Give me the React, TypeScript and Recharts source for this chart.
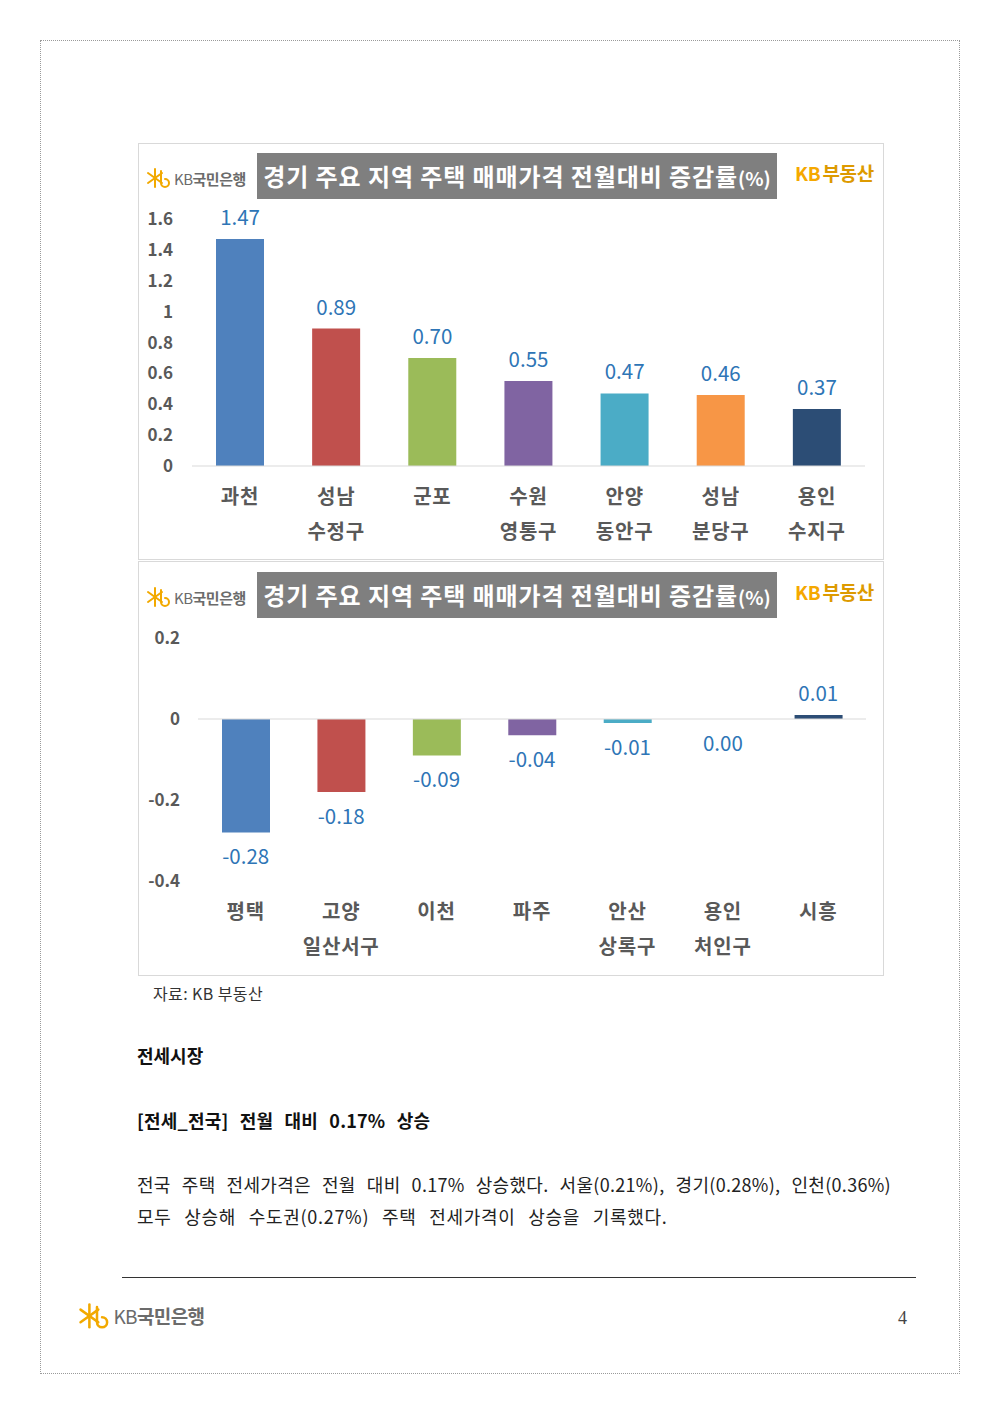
import { ComposedChart, Bar, Line, XAxis, YAxis, Cell, ReferenceLine } from 'recharts'

const FONT = '"Noto Sans CJK KR", "Noto Sans", sans-serif'

// 상승 지역
const upRegions = ['과천', '성남\n수정구', '군포', '수원\n영통구', '안양\n동안구', '성남\n분당구', '용인\n수지구']
const upValues = [1.47, 0.89, 0.7, 0.55, 0.47, 0.46, 0.37]
const upTicks = [0, 0.2, 0.4, 0.6, 0.8, 1, 1.2, 1.4, 1.6]

// 하락 지역
const downRegions = ['평택', '고양\n일산서구', '이천', '파주', '안산\n상록구', '용인\n처인구', '시흥']
const downValues = [-0.28, -0.18, -0.09, -0.04, -0.01, 0.0, 0.01]
const downTicks = [-0.4, -0.2, 0, 0.2]

const barColors = ['#4F81BD', '#C0504D', '#9BBB59', '#8064A2', '#4BACC6', '#F79646', '#2C4D75']

const toRows = (names: string[], values: number[]) =>
  names.map((name, i) => ({ name, value: values[i] }))

function CategoryTick({ x, y, payload }: any) {
  const lines = String(payload.value).split('\n')
  return (
    <text x={x} y={y} textAnchor="middle" fill="#595959" fontSize={20} fontWeight={700} letterSpacing={0.8} fontFamily={FONT}>
      {lines.map((l, i) => (
        <tspan key={i} x={x} y={y + 38 + i * 35}>
          {l}
        </tspan>
      ))}
    </text>
  )
}

function ValueTick({ x, y, payload }: any) {
  return (
    <text x={x} y={y + 6} textAnchor="end" fill="#595959" fontSize={17} fontWeight={700} fontFamily={FONT}>
      {payload.value}
    </text>
  )
}

// 값 라벨: 막대 끝 위치(cx, cy)에 그리되 0 이하이면 아래쪽에 둔다
function ValueDot({ cx, cy, value }: any) {
  if (cx == null || cy == null) return null
  const v = Array.isArray(value) ? value[1] : value
  const ty = v > 0 ? cy - 14 : cy + 32
  return (
    <text x={cx} y={ty} textAnchor="middle" fill="#2E75B6" fontSize={20.5} fontFamily={FONT}>
      {Number(v).toFixed(2)}
    </text>
  )
}

function KbLogo({ size }: { size: number }) {
  const s = size / 15
  return (
    <div style={{ display: 'flex', alignItems: 'center', gap: 2 * s }}>
      <svg width={26 * s} height={22 * s} viewBox="0 0 26 22">
        <g stroke="#F2A900" strokeWidth={2} strokeLinecap="round" fill="none">
          <line x1={9} y1={2} x2={9} y2={20} />
          <line x1={2} y1={6} x2={16} y2={16} />
          <line x1={2} y1={16} x2={16} y2={6} />
          <path d="M15 4 L15 16 A4 4 0 1 0 19 12" />
        </g>
      </svg>
      <span style={{ fontFamily: FONT, fontSize: size, color: '#6b6b6b', letterSpacing: -0.5 * s }}>
        KB<span style={{ fontWeight: 700 }}>국민은행</span>
      </span>
    </div>
  )
}

function Header({ top }: { top: number }) {
  return (
    <>
      <div style={{ position: 'absolute', left: 146, top: top + 14 }}>
        <KbLogo size={15} />
      </div>
      <div
        style={{
          position: 'absolute',
          left: 257,
          top,
          width: 520,
          height: 46,
          background: '#7F7F7F',
          color: '#fff',
          fontFamily: FONT,
          fontWeight: 700,
          fontSize: 24,
          lineHeight: '46px',
          textAlign: 'center',
          letterSpacing: 0.9,
          whiteSpace: 'nowrap',
        }}
      >
        경기 주요 지역 주택 매매가격 전월대비 증감률<span style={{ fontSize: 19, letterSpacing: 0 }}>(%)</span>
      </div>
      <div
        style={{ position: 'absolute', left: 795, top: top + 6, fontFamily: FONT, fontWeight: 700, fontSize: 19, letterSpacing: -0.3 }}
      >
        <span style={{ color: '#F5A800' }}>KB</span>
        <span style={{ color: '#DD9A00', marginLeft: 2 }}>부동산</span>
      </div>
    </>
  )
}

export default function App() {
  const upRows = toRows(upRegions, upValues)
  const downRows = toRows(downRegions, downValues)

  return (
    <div style={{ position: 'absolute', left: 0, top: 0, width: 1000, height: 1414, background: '#fff', fontFamily: FONT }}>
      <div style={{ position: 'absolute', left: 40, top: 40, width: 920, height: 1334, border: '1px dotted #9a9a9a', boxSizing: 'border-box' }} />

      {/* 상승 차트 */}
      <div style={{ position: 'absolute', left: 138, top: 143, width: 746, height: 417, border: '1px solid #D9D9D9', boxSizing: 'border-box' }} />
      <div style={{ position: 'absolute', left: 138, top: 143 }}>
        <ComposedChart width={746} height={417} data={upRows} margin={{ top: 76, right: 19, left: 0, bottom: 14 }}>
          <XAxis dataKey="name" axisLine={{ stroke: '#D9D9D9' }} tickLine={false} tickSize={0} tickMargin={0} height={80} interval={0} tick={<CategoryTick />} />
          <YAxis domain={[0, 1.6]} ticks={upTicks} width={54} axisLine={false} tickLine={false} tickSize={0} tickMargin={19} tick={<ValueTick />} />
          <Bar dataKey="value" barSize={48} isAnimationActive={false}>
            {upRows.map((r, i) => (
              <Cell key={r.name} fill={barColors[i]} />
            ))}
          </Bar>
          <Line dataKey="value" stroke="none" dot={<ValueDot />} activeDot={false} isAnimationActive={false} />
        </ComposedChart>
      </div>
      <Header top={153} />

      {/* 하락 차트 */}
      <div style={{ position: 'absolute', left: 138, top: 561, width: 746, height: 415, border: '1px solid #D9D9D9', boxSizing: 'border-box' }} />
      <div style={{ position: 'absolute', left: 138, top: 561 }}>
        <ComposedChart width={746} height={415} data={downRows} margin={{ top: 77, right: 18, left: 0, bottom: 15 }}>
          <XAxis dataKey="name" axisLine={false} tickLine={false} tickSize={0} tickMargin={0} height={80} interval={0} tick={<CategoryTick />} />
          <YAxis domain={[-0.4, 0.2]} ticks={downTicks} width={60} axisLine={false} tickLine={false} tickSize={0} tickMargin={18} tick={<ValueTick />} />
          <ReferenceLine y={0} stroke="#D9D9D9" />
          <Bar dataKey="value" barSize={48} isAnimationActive={false}>
            {downRows.map((r, i) => (
              <Cell key={r.name} fill={barColors[i]} />
            ))}
          </Bar>
          <Line dataKey="value" stroke="none" dot={<ValueDot />} activeDot={false} isAnimationActive={false} />
        </ComposedChart>
      </div>
      <Header top={572} />

      <div style={{ position: 'absolute', left: 153, top: 981, fontSize: 16, color: '#333', letterSpacing: 0.4 }}>자료: KB 부동산</div>

      <div style={{ position: 'absolute', left: 137, top: 1042, fontSize: 18, fontWeight: 700, color: '#111' }}>전세시장</div>
      <div style={{ position: 'absolute', left: 137, top: 1107, fontSize: 18, fontWeight: 700, color: '#111', wordSpacing: 7, letterSpacing: 0.2, whiteSpace: 'nowrap' }}>
        [전세_전국] 전월 대비 0.17% 상승
      </div>
      <div style={{ position: 'absolute', left: 137, top: 1171, width: 754, fontSize: 18, color: '#222', textAlign: 'justify', textAlignLast: 'justify', letterSpacing: 0.3, whiteSpace: 'nowrap' }}>
        전국 주택 전세가격은 전월 대비 0.17% 상승했다. 서울(0.21%), 경기(0.28%), 인천(0.36%)
      </div>
      <div style={{ position: 'absolute', left: 137, top: 1203, fontSize: 18, color: '#222', wordSpacing: 8, letterSpacing: 0.7, whiteSpace: 'nowrap' }}>
        모두 상승해 수도권(0.27%) 주택 전세가격이 상승을 기록했다.
      </div>

      <div style={{ position: 'absolute', left: 122, top: 1277, width: 794, height: 1, background: '#333' }} />
      <div style={{ position: 'absolute', left: 78, top: 1302 }}>
        <KbLogo size={19} />
      </div>
      <div style={{ position: 'absolute', left: 898, top: 1308, fontFamily: '"Liberation Serif", serif', fontSize: 18, color: '#444' }}>4</div>
    </div>
  )
}
